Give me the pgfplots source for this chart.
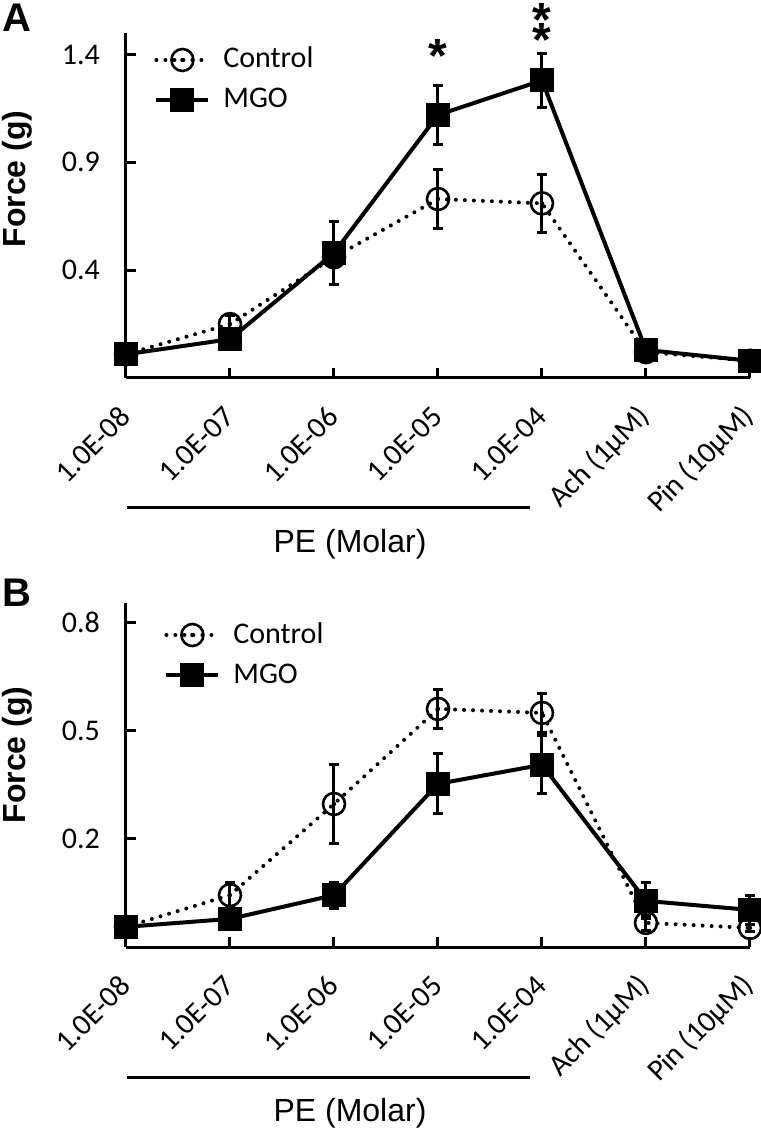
\documentclass[border=0pt]{standalone}
\usepackage{pgfplots}
\pgfplotsset{compat=1.18}
\usepackage{fontspec}
\setmainfont{Carlito}
\newfontfamily\arialfont{Liberation Sans}

\pgfdeclareplotmark{odot}{%
  \pgfpathcircle{\pgfpoint{0pt}{0pt}}{\pgfplotmarksize}\pgfusepathqstroke
  \pgfpathcircle{\pgfpoint{0pt}{0pt}}{1.1pt}\pgfusepathqfill}

\tikzset{star/.style={font=\arialfont\bfseries\fontsize{24}{24}\selectfont, anchor=base, inner sep=0pt}}
\pgfplotsset{
  panel/.style={
    scale only axis, width=312pt,
    xmin=0, xmax=6,
    axis lines=left, axis line style={-, line width=1.5pt},
    tick align=inside, major tick length=5pt,
    every tick/.style={line width=1.5pt, black},
    xtick={0,...,6},
    xticklabels={1.0E-08,1.0E-07,1.0E-06,1.0E-05,1.0E-04,Ach (1µM),Pin (10µM)},
    xticklabel style={yshift=-14.5pt, xshift=2pt, rotate=45, anchor=east, font=\fontsize{15}{18}\selectfont},
    yticklabel style={font=\fontsize{15}{18}\selectfont, xshift=-9.5pt},
    clip=false,
    ylabel={Force (g)},
    ylabel style={font=\arialfont\bfseries\fontsize{16}{19}\selectfont, anchor=center},
    legend cell align=left,
    legend style={at={(axis description cs:0,1)}, anchor=north west, draw=none, fill=none,
      font=\fontsize{15}{18}\selectfont, inner sep=0pt, row sep=2pt,
      nodes={inner sep=2pt, text height=11pt, text depth=3pt},
      /tikz/every odd column/.append style={column sep=4.5pt}},
    legend image code/.code={\draw[mark repeat=2, mark phase=2, #1] plot coordinates {(0pt,0pt) (13pt,0pt) (26pt,0pt)};},
  },
  ctrl/.style={black, line width=2pt, dash pattern=on 0pt off 4.5pt, line cap=round,
    mark=odot, mark size=5.5pt, mark options={solid, line width=1.3pt},
    error bars/.cd, y dir=both, y explicit,
    error bar style={solid, line width=1.5pt, line cap=butt},
    error mark options={rotate=90, mark size=2.5pt, line width=1.5pt, solid}},
  mgo/.style={black, line width=2pt, mark=square*, mark size=5pt, mark options={solid},
    error bars/.cd, y dir=both, y explicit,
    error bar style={solid, line width=1.5pt, line cap=butt},
    error mark options={rotate=90, mark size=2.5pt, line width=1.5pt, solid}},
}

\begin{document}
\begin{tikzpicture}
\useasboundingbox (-63pt,-375pt) rectangle (317pt,189pt);
% ---------------- Panel A ----------------
\begin{axis}[panel, height=172.5pt, at={(0,0)}, anchor=south west,
  ymin=-0.1, ymax=1.5, ytick={0.4,0.9,1.4}, yticklabels={0.4,0.9,1.4},
  ylabel style={at={(axis description cs:-0.1747,0.577)}},
  legend style={xshift=14pt, yshift=-4.3pt}]
\addplot[ctrl] coordinates {
 (0,0.01) +- (0,0.01)
 (1,0.15) +- (0,0.04)
 (2,0.46) +- (0,0.04)
 (3,0.73) +- (0,0.135)
 (4,0.71) +- (0,0.135)
 (5,0.02) +- (0,0.01)
 (6,-0.02) +- (0,0.01)
};
\addlegendentry{Control}
\addplot[mgo] coordinates {
 (0,0.01) +- (0,0.01)
 (1,0.08) +- (0,0.02)
 (2,0.48) +- (0,0.145)
 (3,1.12) +- (0,0.135)
 (4,1.28) +- (0,0.125)
 (5,0.03) +- (0,0.01)
 (6,-0.02) +- (0,0.01)
};
\addlegendentry{MGO}
\node[star] at (axis cs:3,1.315) {*};
\node[star] at (axis cs:4,1.39) {*};
\node[star] at (axis cs:4,1.482) {*};
\draw[line width=1.5pt] ([yshift=-64.5pt]axis cs:0.01,-0.1) -- ([yshift=-64.5pt]axis cs:3.885,-0.1);
\node[font=\arialfont\fontsize{16}{19}\selectfont] at ([yshift=-83.25pt]axis cs:2.154,-0.1) {PE (Molar)};
\node[font=\arialfont\bfseries\fontsize{20}{22}\selectfont] at (axis description cs:-0.1747,1.0435) {A};
\end{axis}
% ---------------- Panel B ----------------
\begin{axis}[panel, height=172pt, at={(0,-284.5pt)}, anchor=south west,
  ymin=-0.1, ymax=0.855, ytick={0.2,0.5,0.8}, yticklabels={0.2,0.5,0.8},
  ylabel style={at={(axis description cs:-0.1747,0.558)}},
  legend style={xshift=19pt, yshift=-6.8pt}]
\addplot[ctrl] coordinates {
 (0,-0.044) +- (0,0.01)
 (1,0.044) +- (0,0.035)
 (2,0.297) +- (0,0.11)
 (3,0.561) +- (0,0.055)
 (4,0.55) +- (0,0.055)
 (5,-0.033) +- (0,0.02)
 (6,-0.047) +- (0,0.01)
};
\addlegendentry{Control}
\addplot[mgo] coordinates {
 (0,-0.044) +- (0,0.01)
 (1,-0.022) +- (0,0.01)
 (2,0.044) +- (0,0.036)
 (3,0.353) +- (0,0.083)
 (4,0.406) +- (0,0.08)
 (5,0.028) +- (0,0.05)
 (6,0.003) +- (0,0.04)
};
\addlegendentry{MGO}
\draw[line width=1.5pt] ([yshift=-65pt]axis cs:0.01,-0.1) -- ([yshift=-65pt]axis cs:3.885,-0.1);
\node[font=\arialfont\fontsize{16}{19}\selectfont] at ([yshift=-83.25pt]axis cs:2.154,-0.1) {PE (Molar)};
\node[font=\arialfont\bfseries\fontsize{20}{22}\selectfont] at (axis description cs:-0.1747,1.029) {B};
\end{axis}
\end{tikzpicture}
\end{document}
